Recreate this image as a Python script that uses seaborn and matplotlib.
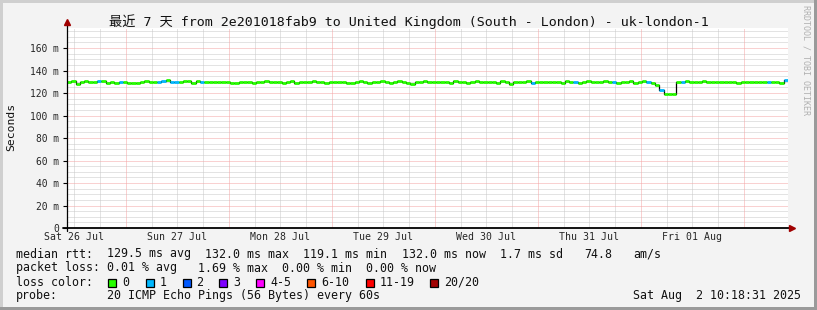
import numpy as np
import pandas as pd
import matplotlib
matplotlib.use("Agg")
import matplotlib.pyplot as plt
import seaborn as sns
from matplotlib.patches import Rectangle

# ---------------- data ----------------
title = "最近 7 天 from 2e201018fab9 to United Kingdom (South - London) - uk-london-1"
start_offset_to_noon = 1.6914  # hours from 10:18:31 to noon
median_ms = [
    130, 130.5, 128, 130, 131, 130, 129.5, 130.5, 131, 129, 130, 128.5, 129.5, 130, 129, 128.5, 129, 130, 130.5, 129.5, 130, 130, 131, 131.5,
    130, 130, 129.5, 131, 130.5, 128.5, 131, 130, 130, 129.5, 130, 130, 130, 130, 129, 129, 130, 129.5, 130, 129, 129.5, 130, 130.5, 130,
    129.5, 130, 129, 130, 130.5, 129, 130, 130, 129.5, 131, 130, 129.5, 129, 130, 130, 129.5, 130, 129, 128.5, 129.5, 130.5, 130, 129, 130,
    130, 130.5, 129.5, 129, 130, 131, 130, 129, 128, 129.5, 130, 130.5, 129.5, 130, 130, 129.5, 130, 129, 130.5, 130, 129.5, 129, 130, 130.5,
    130, 129.5, 130, 130, 129, 130.5, 129.5, 128, 130, 129.5, 130, 130.5, 129, 130, 129.5, 130, 129.5, 130, 130, 129, 130.5, 129.5, 130, 129,
    130, 130.5, 130, 129.5, 130, 131, 129.5, 130, 129, 130, 130, 130.5, 129, 130, 131, 129.5, 129, 127.5, 123, 119.1, 119.2, 119.2, 130, 129.5,
    131, 130, 129.5, 130, 130.5, 130, 129.5, 130, 130, 129.5, 130, 130, 129, 129.5, 130, 130, 129.5, 130, 130, 129.5, 130, 130, 129, 132,
]
loss_idx = [0] * len(median_ms)
for h in [7, 12, 21, 22, 24, 25, 31, 108, 118, 127, 135, 138, 143, 163, 167]:
    loss_idx[h] = 1
hours = list(range(len(median_ms)))

loss_labels = ["0", "1", "2", "3", "4-5", "6-10", "11-19", "20/20"]
loss_colors = ["#26ff00", "#00b8ff", "#0059ff", "#7e00ff", "#ff00ff", "#ff5500", "#ff0000", "#a00000"]
day_labels = ["Sat 26 Jul", "Sun 27 Jul", "Mon 28 Jul", "Tue 29 Jul", "Wed 30 Jul", "Thu 31 Jul", "Fri 01 Aug"]
y_ticks = [0, 20, 40, 60, 80, 100, 120, 140, 160]
y_ticklabels = ["0", "20 m", "40 m", "60 m", "80 m", "100 m", "120 m", "140 m", "160 m"]

rtt_fields = ["median rtt:", "129.5 ms avg", "132.0 ms max", "119.1 ms min", "132.0 ms now", "1.7 ms sd", "74.8", "am/s"]
loss_fields = ["packet loss:", "0.01 % avg", "1.69 % max", "0.00 % min", "0.00 % now"]
probe_text = "20 ICMP Echo Pings (56 Bytes) every 60s"
date_text = "Sat Aug  2 10:18:31 2025"

# ---------------- style ----------------
sns.set_style("white")
MONO = ["DejaVu Sans Mono", "Noto Sans CJK SC"]
plt.rcParams["font.family"] = MONO

W, H = 817, 310
fig = plt.figure(figsize=(W / 100, H / 100), dpi=100, facecolor="#f3f3f3")

def fx(px):
    return px / W

def fy(py):
    return 1 - py / H

# border
fig.add_artist(Rectangle((0, fy(3)), 1, 3 / H, transform=fig.transFigure, color="#cfcfcf", lw=0))
fig.add_artist(Rectangle((0, 0), 3 / W, 1, transform=fig.transFigure, color="#cfcfcf", lw=0))
fig.add_artist(Rectangle((0, 0), 1, 3 / H, transform=fig.transFigure, color="#9a9a9a", lw=0))
fig.add_artist(Rectangle((fx(814), 0), 3 / W, 1, transform=fig.transFigure, color="#9a9a9a", lw=0))

ax = fig.add_axes([fx(67), fy(228), 721 / W, 200 / H])
ax.set_facecolor("white")
ax.set_xlim(0, 168)
ax.set_ylim(0, 177.8)
for s in ax.spines.values():
    s.set_visible(False)

# grid
dot = (0, (1, 1))
for y in np.arange(5, 177, 5):
    if y % 20 == 0:
        continue
    ax.axhline(y, color="#c8c8c8", lw=0.72, ls=dot, zorder=0)
for y in y_ticks[1:]:
    ax.axhline(y, color="#f4a4a4", lw=0.72, ls=dot, zorder=0.5)
for k in range(29):
    x = start_offset_to_noon + 6 * k - 12
    if x <= 0 or x >= 168:
        continue
    if abs(((x - start_offset_to_noon) % 24) - 12) < 1e-6:
        ax.axvline(x, color="#f4a4a4", lw=0.72, ls=dot, zorder=0.5)
    else:
        ax.axvline(x, color="#c8c8c8", lw=0.72, ls=dot, zorder=0)

# data: black step line then loss-coloured median segments
df = pd.DataFrame({"hour": hours + [hours[-1] + 1], "ms": median_ms + [median_ms[-1]]})
sns.lineplot(data=df, x="hour", y="ms", drawstyle="steps-post", color="black", lw=0.9, ax=ax, zorder=3)
ax.hlines(median_ms, [h for h in hours], [h + 1 for h in hours],
          colors=[loss_colors[i] for i in loss_idx], lw=2.0, zorder=4)

# ticks
ax.set_yticks(y_ticks)
ax.set_yticklabels(y_ticklabels, fontsize=6.9, family=MONO)
ax.set_xticks([start_offset_to_noon + 24 * k for k in range(7)])
ax.set_xticklabels(day_labels, fontsize=7.1, family=MONO)
ax.tick_params(axis="y", length=3, width=0.8, color="black", pad=2.6, left=True)
ax.tick_params(axis="x", length=0, pad=3.0, bottom=True)
ax.set_xlabel("")
ax.set_ylabel("")

# axes lines and arrows
ax.plot([0, 0], [-0.015, 1.015], transform=ax.transAxes, color="black", lw=0.9, clip_on=False, zorder=5)
ax.plot([-0.0055, 1.002], [0, 0], transform=ax.transAxes, color="black", lw=1.3, clip_on=False, zorder=5)
ax.plot([0], [1.03], transform=ax.transAxes, marker="^", ms=5, color="#a00000", clip_on=False, zorder=6)
ax.plot([1.0055], [0], transform=ax.transAxes, marker=">", ms=5, color="#a00000", clip_on=False, zorder=6)

# texts
fig.text(fx(408.5), fy(21.5), title, ha="center", va="center", fontsize=9.5, family=MONO, color="#111111")
fig.text(fx(11), fy(127), "Seconds", rotation=90, ha="center", va="center", fontsize=8.2, family=MONO, color="#111111")
fig.text(fx(806), fy(60), "RRDTOOL / TOBI OETIKER", rotation=270, ha="center", va="center",
         fontsize=6, family=MONO, color="#b0b0b0")

LEG = 8.4
CW = 7.02  # monospace cell width in px
def col(c):
    return 15.5 + c * CW

rtt_cols = [0, 13, 27, 41, 55, 69, 81, 88]
for t, c in zip(rtt_fields, rtt_cols):
    fig.text(fx(col(c)), fy(254), t, ha="left", va="center", fontsize=LEG, family=MONO, color="#111111")
loss_cols = [0, 13, 26, 38, 50]
for t, c in zip(loss_fields, loss_cols):
    fig.text(fx(col(c)), fy(268), t, ha="left", va="center", fontsize=LEG, family=MONO, color="#111111")
fig.text(fx(15.5), fy(282), "loss color:", ha="left", va="center", fontsize=LEG, family=MONO, color="#111111")
sq_x = [108, 146, 182.5, 219, 256, 307, 365.5, 430]
lab_x = [123, 160, 197, 234, 271, 322, 380, 445]
for lab, colr, sx, lx in zip(loss_labels, loss_colors, sq_x, lab_x):
    fig.add_artist(Rectangle((fx(sx), fy(286.5)), 8 / W, 8 / H, transform=fig.transFigure,
                             facecolor=colr, edgecolor="black", lw=0.9))
    fig.text(fx(lx - 0.5), fy(282), lab, ha="left", va="center", fontsize=LEG, family=MONO, color="#111111")
fig.text(fx(15.5), fy(296), "probe:", ha="left", va="center", fontsize=LEG, family=MONO, color="#111111")
fig.text(fx(col(13)), fy(296), probe_text, ha="left", va="center", fontsize=LEG, family=MONO, color="#111111")
fig.text(fx(801), fy(296), date_text, ha="right", va="center", fontsize=LEG, family=MONO, color="#111111")

fig.savefig("out.png", dpi=100, facecolor=fig.get_facecolor())
